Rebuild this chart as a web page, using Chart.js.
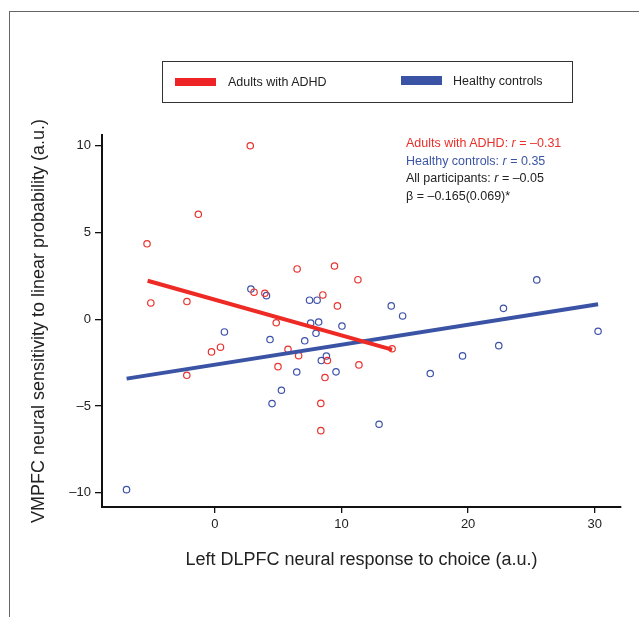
<!DOCTYPE html>
<html>
<head>
<meta charset="utf-8">
<script src="https://cdn.jsdelivr.net/npm/chart.js@4/dist/chart.umd.min.js"></script>
<style>
html,body{margin:0;padding:0;background:#fff;}
body{width:639px;height:617px;position:relative;overflow:hidden;font-family:"Liberation Sans",Arial,Helvetica,sans-serif;color:#222;}
#c{position:absolute;left:0;top:0;width:639px;height:617px;}
#frame{position:absolute;left:9px;top:11px;width:640px;height:620px;border-top:1.5px solid #666;border-left:1.5px solid #666;}
#legend{position:absolute;left:162px;top:61px;width:409px;height:40px;border:1.3px solid #333;}
.sw{position:absolute;width:41px;height:8.5px;}
.lt{position:absolute;font-size:12.5px;line-height:14px;color:#222;white-space:nowrap;}
#notes{position:absolute;left:406px;top:135px;font-size:12.5px;line-height:17.5px;white-space:nowrap;}
#notes i{font-style:italic;}
</style>
</head>
<body>
<div id="frame"></div>
<canvas id="c" width="639" height="617"></canvas>
<div id="legend"></div>
<div class="sw" style="left:175px;top:77.5px;background:#ee2326;"></div>
<div class="lt" style="left:228px;top:74.5px;">Adults with ADHD</div>
<div class="sw" style="left:401px;top:76px;background:#3a53a4;"></div>
<div class="lt" style="left:453px;top:73.5px;">Healthy controls</div>
<div id="notes">
<div style="color:#e8302b;">Adults with ADHD: <i>r</i> = –0.31</div>
<div style="color:#3c55a5;">Healthy controls: <i>r</i> = 0.35</div>
<div style="color:#222;">All participants: <i>r</i> = –0.05</div>
<div style="color:#222;">β = –0.165(0.069)*</div>
</div>
<script>
// Adults with ADHD (red points)
const adhdX = [2.8, -1.3, -5.35, -5.05, -2.2, 6.5, 3.1, 3.95, 9.45, 11.3, 8.53, 9.68, 14.0, 4.85, 5.78, 6.62, 8.89, 4.99, 8.7, 8.37, 8.37, 11.38, -0.26, 0.45, -2.21];
const adhdY = [10.0, 6.05, 4.35, 0.94, 1.02, 2.9, 1.56, 1.5, 3.07, 2.28, 1.4, 0.77, -1.7, -0.2, -1.73, -2.1, -2.38, -2.73, -3.36, -4.85, -6.42, -2.63, -1.88, -1.61, -3.23];
// Healthy controls (blue points)
const hcX = [2.85, 4.08, 7.48, 8.08, 7.57, 8.2, 10.04, 7.99, 4.36, 7.1, 8.81, 8.41, 6.47, 9.57, 5.26, 4.52, 12.97, 0.76, -6.97, 13.93, 14.83, 25.42, 22.79, 30.26, 22.42, 19.56, 17.01];
const hcY = [1.74, 1.36, 1.1, 1.1, -0.22, -0.16, -0.39, -0.81, -1.17, -1.24, -2.12, -2.38, -3.04, -3.03, -4.09, -4.86, -6.05, -0.73, -9.82, 0.77, 0.19, 2.27, 0.63, -0.69, -1.52, -2.11, -3.13];
// Regression lines (end points)
const adhdFitX = [-5.3, 14.0];
const adhdFitY = [2.22, -1.75];
const hcFitX = [-6.96, 30.26];
const hcFitY = [-3.42, 0.86];
// Axis ticks
const xTicks = [0, 10, 20, 30];
const yTicks = [-10, -5, 0, 5, 10];

const pts = (xs, ys) => xs.map((x, i) => ({x: x, y: ys[i]}));
const FONT = '"Liberation Sans", Arial, Helvetica, sans-serif';
const fmt = v => (v < 0 ? '\u2013' + Math.abs(v) : String(v));

new Chart(document.getElementById('c'), {
  type: 'scatter',
  data: {
    datasets: [
      {label: 'ADHD fit', type: 'line', data: pts(adhdFitX, adhdFitY), borderColor: '#ee2a24', borderWidth: 4, pointRadius: 0, showLine: true, fill: false, order: 0},
      {label: 'HC fit', type: 'line', data: pts(hcFitX, hcFitY), borderColor: '#3a53a4', borderWidth: 4, pointRadius: 0, showLine: true, fill: false, order: 1},
      {label: 'Adults with ADHD', data: pts(adhdX, adhdY), pointStyle: 'circle', pointRadius: 3.2, borderWidth: 1.2, borderColor: '#e8332e', backgroundColor: 'rgba(0,0,0,0)', order: 2},
      {label: 'Healthy controls', data: pts(hcX, hcY), pointStyle: 'circle', pointRadius: 3.2, borderWidth: 1.2, borderColor: '#3d52a8', backgroundColor: 'rgba(0,0,0,0)', order: 3}
    ]
  },
  options: {
    responsive: false,
    animation: false,
    events: [],
    layout: {padding: {left: 0, top: 135, right: 18, bottom: 40}},
    plugins: {legend: {display: false}, tooltip: {enabled: false}},
    scales: {
      x: {
        type: 'linear', min: -8.905, max: 32.07,
        afterFit: s => { s.height = 70; },
        afterBuildTicks: s => { s.ticks = xTicks.map(v => ({value: v})); },
        grid: {drawOnChartArea: false, drawTicks: true, tickLength: 6, color: '#111', lineWidth: 1.3},
        border: {display: true, color: '#111', width: 2},
        ticks: {font: {size: 13, family: FONT}, color: '#222', padding: 3.5, maxRotation: 0, autoSkip: false, callback: v => fmt(v)},
        title: {display: true, text: 'Left DLPFC neural response to choice (a.u.)', font: {size: 18, family: FONT}, color: '#222', padding: {top: 0, bottom: 6.2}}
      },
      y: {
        type: 'linear', min: -10.82, max: 10.62,
        afterFit: s => { s.width = 102; },
        afterBuildTicks: s => { s.ticks = yTicks.map(v => ({value: v})); },
        grid: {drawOnChartArea: false, drawTicks: true, tickLength: 7, color: '#111', lineWidth: 1.3},
        border: {display: true, color: '#111', width: 2},
        ticks: {font: {size: 13, family: FONT}, color: '#222', padding: 4, autoSkip: false, callback: v => fmt(v)},
        title: {display: true, text: 'VMPFC neural sensitivity to linear probability (a.u.)', font: {size: 18, family: FONT}, color: '#222', padding: {top: 28, bottom: 0}}
      }
    }
  }
});
</script>
</body>
</html>
